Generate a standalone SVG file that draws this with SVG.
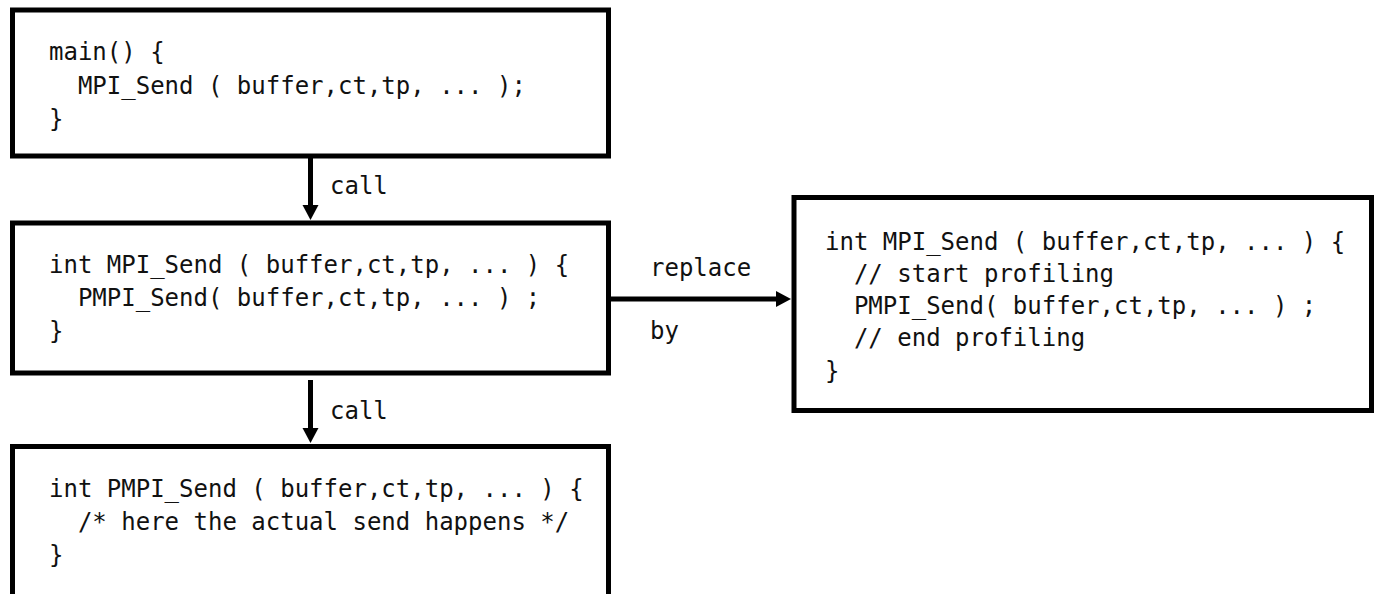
<svg xmlns="http://www.w3.org/2000/svg" width="1379" height="594" viewBox="0 0 1379 594">
<style>
.box{fill:#fff;stroke:#000;stroke-width:5}
.code{font-family:"DejaVu Sans Mono","Liberation Mono",monospace;font-size:24px;fill:#111;white-space:pre}
.conn{stroke:#000;stroke-width:5;fill:none}
</style>
<defs>
<marker id="ah" markerUnits="userSpaceOnUse" markerWidth="16" markerHeight="18" refX="3" refY="8" orient="auto" viewBox="0 0 16 16">
<path d="M0,0 L15,8 L0,16 z" fill="#000"/>
</marker>
</defs>
<rect width="1379" height="594" fill="#fff"/>
<g id="connectors">
<line class="conn" x1="310.5" y1="158" x2="310.5" y2="208" marker-end="url(#ah)"/>
<line class="conn" x1="310.5" y1="380" x2="310.5" y2="431" marker-end="url(#ah)"/>
<line class="conn" x1="611" y1="299" x2="779" y2="299" marker-end="url(#ah)"/>
<text class="code" x="330" y="194">call</text>
<text class="code" x="330" y="419">call</text>
<text class="code" x="650" y="276">replace</text>
<text class="code" x="650" y="339">by</text>
</g>
<g id="main">
<rect class="box" x="12.5" y="10" width="596" height="146"/>
<text class="code" x="49" y="60">main() {</text>
<text class="code" x="49" y="94">  MPI_Send ( buffer,ct,tp, ... );</text>
<text class="code" x="49" y="127">}</text>
</g>
<g id="mpi_send">
<rect class="box" x="12.5" y="223" width="596" height="150"/>
<text class="code" x="49" y="273">int MPI_Send ( buffer,ct,tp, ... ) {</text>
<text class="code" x="49" y="306">  PMPI_Send( buffer,ct,tp, ... ) ;</text>
<text class="code" x="49" y="339">}</text>
</g>
<g id="pmpi_send">
<rect class="box" x="12.5" y="446.5" width="596" height="170"/>
<text class="code" x="49" y="497">int PMPI_Send ( buffer,ct,tp, ... ) {</text>
<text class="code" x="49" y="530">  /* here the actual send happens */</text>
<text class="code" x="49" y="563">}</text>
</g>
<g id="profiling_send">
<rect class="box" x="794" y="197.5" width="577.5" height="213"/>
<text class="code" x="825" y="250">int MPI_Send ( buffer,ct,tp, ... ) {</text>
<text class="code" x="825" y="282">  // start profiling</text>
<text class="code" x="825" y="314">  PMPI_Send( buffer,ct,tp, ... ) ;</text>
<text class="code" x="825" y="346">  // end profiling</text>
<text class="code" x="825" y="379">}</text>
</g>
</svg>
